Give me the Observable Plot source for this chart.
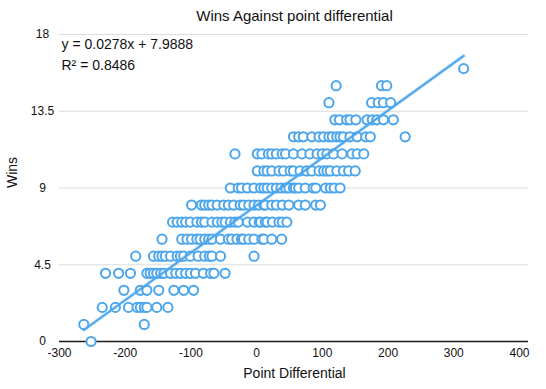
<!DOCTYPE html>
<html>
<head>
<meta charset="utf-8">
<script src="https://cdn.jsdelivr.net/npm/d3@7"></script>
<script src="https://cdn.jsdelivr.net/npm/@observablehq/plot@0.6"></script>
<style>
  html, body { margin: 0; padding: 0; background: #fff; }
  #chart svg { display: block; }
</style>
</head>
<body>
<div id="chart"></div>
<script>
const wins0  = [-252];
const wins1  = [-263, -171];
const wins2  = [-235, -215, -195, -182, -177, -171, -167, -152, -135];
const wins3  = [-202, -177, -167, -149, -126, -111, -96];
const wins4  = [-230, -210, -192, -167, -162, -157, -152, -146, -141, -131, -123, -116, -108, -101, -93, -81, -70, -65, -48];
const wins5  = [-184, -157, -149, -144, -139, -131, -121, -116, -111, -101, -89, -79, -72, -68, -55, -4];
const wins6  = [-144, -114, -106, -99, -91, -86, -79, -73, -68, -55, -43, -38, -30, -23, -20, -12, -4, 8, 11, 23, 38];
const wins7  = [-128, -121, -114, -108, -101, -91, -84, -79, -68, -60, -53, -48, -40, -33, -28, -14, -4, 4, 6, 13, 16, 24, 34, 39, 46];
const wins8  = [-99, -84, -79, -73, -68, -60, -50, -43, -35, -25, -20, -12, -4, 3, 11, 13, 23, 30, 39, 49, 64, 74, 90, 97];
const wins9  = [-40, -28, -23, -14, -4, 6, 11, 16, 23, 30, 37, 44, 49, 56, 59, 64, 74, 86, 90, 105, 112, 118, 127];
const wins10 = [1, 11, 16, 23, 34, 41, 51, 56, 66, 76, 84, 95, 102, 107, 112, 122, 132, 140, 150];
const wins11 = [-33, 1, 8, 18, 23, 30, 39, 44, 56, 69, 81, 92, 100, 107, 117, 130, 145, 153, 163];
const wins12 = [56, 64, 71, 84, 95, 102, 110, 115, 122, 127, 132, 142, 153, 166, 173, 226];
const wins13 = [119, 126, 137, 142, 151, 168, 176, 183, 193, 208];
const wins14 = [110, 175, 185, 193, 204];
const wins15 = [121, 190, 198];
const wins16 = [315];

const winLevels = [wins0, wins1, wins2, wins3, wins4, wins5, wins6, wins7, wins8,
                   wins9, wins10, wins11, wins12, wins13, wins14, wins15, wins16];

// Trendline (as printed on the chart)
const trendSlope = 0.0278;
const trendIntercept = 7.9888;
const equationText = "y = 0.0278x + 7.9888";
const r2Text = "R\u00B2 = 0.8486";

// Texts and ticks
const titleText = "Wins Against point differential";
const xLabel = "Point Differential";
const yLabel = "Wins";
const xTicks = [-300, -200, -100, 0, 100, 200, 300, 400];
const yTicks = [0, 4.5, 9, 13.5, 18];

// Build table
const points = winLevels.flatMap((arr, w) => arr.map(pd => ({pd, w})));
const [xmin, xmax] = d3.extent(points, d => d.pd);
const trend = [xmin, xmax].map(x => ({x, y: trendSlope * x + trendIntercept}));

const blue = "#4DA6EC";
const font = "'Liberation Sans', Arial, Helvetica, sans-serif";

const chart = Plot.plot({
  width: 546,
  height: 389,
  marginTop: 34,
  marginLeft: 59,
  marginRight: 27,
  marginBottom: 48,
  style: {fontFamily: font, fontSize: "12px", color: "#111", background: "#fff"},
  x: {domain: [-300, 400]},
  y: {domain: [0, 18]},
  marks: [
    Plot.gridY(yTicks.filter(d => d > 0), {stroke: "#dcdcdc", strokeOpacity: 1, strokeWidth: 1, insetRight: -9}),
    Plot.ruleY([0], {stroke: "#1a1a1a", strokeWidth: 1.3, insetRight: -9}),
    Plot.axisX({ticks: xTicks, tickSize: 0, tickPadding: 7, fontSize: 12, label: null, tickFormat: d => String(d)}),
    Plot.axisY({ticks: yTicks, tickSize: 0, tickPadding: 17, textAnchor: "middle", fontSize: 12, label: null, tickFormat: d => String(d)}),
    Plot.dot(points, {x: "pd", y: "w", r: 4.6, stroke: blue, strokeWidth: 2, fill: "white"}),
    Plot.line(trend, {x: "x", y: "y", stroke: blue, strokeWidth: 4, strokeOpacity: 0.25}),
    Plot.line(trend, {x: "x", y: "y", stroke: blue, strokeWidth: 2}),
    Plot.text([titleText], {frameAnchor: "top", dx: 5, dy: -24, fontSize: 15, fill: "#111"}),
    Plot.text([equationText], {frameAnchor: "top-left", dx: 2, dy: 10, textAnchor: "start", lineAnchor: "middle", fontSize: 14, fill: "#111"}),
    Plot.text([r2Text], {frameAnchor: "top-left", dx: 2, dy: 31, textAnchor: "start", lineAnchor: "middle", fontSize: 14, fill: "#111"}),
    Plot.text([xLabel], {frameAnchor: "bottom", dx: 5, dy: 36, fontSize: 14, fill: "#111"}),
    Plot.text([yLabel], {frameAnchor: "left", dx: -47, rotate: -90, fontSize: 14, fill: "#111"})
  ]
});

document.getElementById("chart").appendChild(chart);
</script>
</body>
</html>
